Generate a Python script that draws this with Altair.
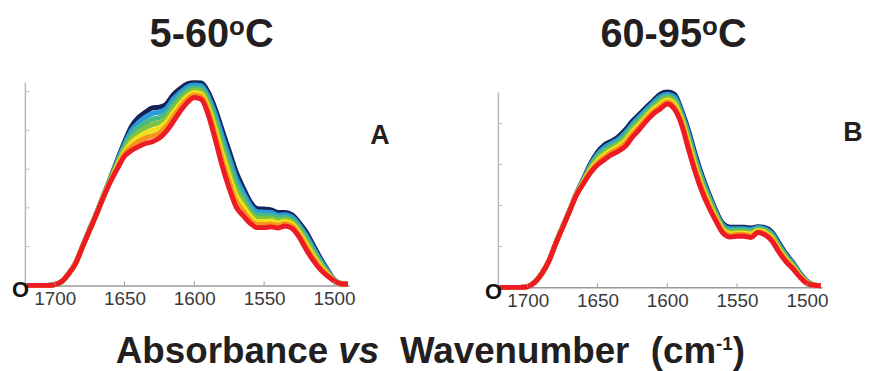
import altair as alt
import pandas as pd

FONT = "Liberation Sans"

wavenumber = [1720, 1715, 1710, 1705, 1700, 1695, 1690, 1685, 1680, 1675, 1670, 1665,
              1660, 1655, 1650, 1645, 1640, 1635, 1630, 1625, 1620, 1615, 1610, 1605,
              1600, 1595, 1590, 1585, 1580, 1575, 1570, 1565, 1560, 1555, 1550, 1545,
              1540, 1535, 1530, 1525, 1520, 1515, 1510, 1505, 1500, 1495, 1490]

series_names = ["t1", "t2", "t3", "t4", "t5", "t6", "t7"]
series_colors = ["#14235A", "#2A9AD8", "#46B88A", "#7DC242", "#EFE21C", "#F7941D", "#ED1C24"]

# Panel A (5-60 C)
a_t1 = [0, 0, 0, 0, .02, .1, .3, .58, 1.02, 1.45, 1.87, 2.33, 2.78, 3.25, 3.7, 4.1, 4.33, 4.47, 4.58, 4.6, 4.68, 4.92, 5.08, 5.2,
        5.23, 5.22, 4.98, 4.55, 4.0, 3.46, 2.92, 2.52, 2.16, 1.98, 1.97, 1.95, 1.88, 1.88, 1.82, 1.62, 1.38, 1.05, .72, .42, .15, .05, .03]
a_t2 = [0, 0, 0, 0, .02, .1, .3, .58, 1.02, 1.45, 1.86, 2.32, 2.76, 3.21, 3.64, 4.0, 4.2, 4.34, 4.44, 4.47, 4.56, 4.81, 4.98, 5.12,
        5.17, 5.15, 4.88, 4.42, 3.85, 3.3, 2.77, 2.4, 2.07, 1.9, 1.89, 1.88, 1.81, 1.82, 1.76, 1.56, 1.3, .98, .67, .39, .15, .05, .03]
a_t3 = [0, 0, 0, 0, .02, .1, .3, .58, 1.01, 1.44, 1.86, 2.31, 2.75, 3.17, 3.58, 3.89, 4.08, 4.2, 4.29, 4.33, 4.45, 4.69, 4.89, 5.04,
        5.1, 5.08, 4.79, 4.29, 3.69, 3.14, 2.62, 2.28, 1.97, 1.82, 1.81, 1.8, 1.75, 1.76, 1.7, 1.5, 1.23, .92, .62, .36, .14, .05, .03]
a_t4 = [0, 0, 0, 0, .02, .1, .3, .58, 1.01, 1.44, 1.86, 2.31, 2.73, 3.14, 3.52, 3.79, 3.96, 4.07, 4.15, 4.2, 4.33, 4.58, 4.79, 4.96,
        5.04, 5.01, 4.69, 4.16, 3.54, 2.98, 2.47, 2.16, 1.88, 1.74, 1.73, 1.73, 1.68, 1.71, 1.65, 1.44, 1.16, .85, .57, .34, .14, .05, .03]
a_t5 = [0, 0, 0, 0, .02, .1, .3, .57, 1.01, 1.43, 1.85, 2.3, 2.71, 3.1, 3.45, 3.69, 3.83, 3.93, 4.0, 4.07, 4.21, 4.46, 4.69, 4.88,
        4.98, 4.94, 4.59, 4.02, 3.39, 2.82, 2.32, 2.04, 1.79, 1.65, 1.65, 1.66, 1.61, 1.65, 1.59, 1.37, 1.08, .78, .52, .31, .13, .04, .03]
a_t6 = [0, 0, 0, 0, .02, .1, .3, .57, 1.0, 1.42, 1.84, 2.29, 2.7, 3.06, 3.39, 3.58, 3.71, 3.8, 3.86, 3.93, 4.1, 4.35, 4.6, 4.8,
        4.91, 4.87, 4.5, 3.89, 3.23, 2.66, 2.17, 1.92, 1.69, 1.57, 1.57, 1.58, 1.55, 1.59, 1.53, 1.31, 1.01, .72, .47, .28, .13, .04, .03]
a_t7 = [0, 0, 0, 0, .02, .1, .3, .57, 1.0, 1.42, 1.84, 2.28, 2.68, 3.02, 3.33, 3.48, 3.58, 3.66, 3.71, 3.8, 3.98, 4.23, 4.5, 4.72,
        4.85, 4.8, 4.4, 3.76, 3.08, 2.5, 2.02, 1.8, 1.6, 1.49, 1.49, 1.51, 1.48, 1.53, 1.47, 1.25, .93, .65, .42, .25, .12, .04, .03]

# Panel B (60-95 C)
b_t1 = [0, 0, 0, 0, .02, .12, .33, .63, 1.07, 1.48, 1.88, 2.3, 2.66, 3.02, 3.3, 3.48, 3.57, 3.68, 3.85, 4.06, 4.23, 4.4, 4.56, 4.72,
        4.77, 4.72, 4.35, 3.85, 3.25, 2.72, 2.27, 1.86, 1.55, 1.47, 1.47, 1.47, 1.45, 1.48, 1.46, 1.35, 1.08, .82, .6, .35, .15, .06, .04]
b_t2 = [0, 0, 0, 0, .02, .12, .33, .63, 1.07, 1.48, 1.88, 2.29, 2.64, 2.98, 3.25, 3.42, 3.52, 3.62, 3.78, 3.99, 4.17, 4.34, 4.51, 4.66,
        4.72, 4.66, 4.29, 3.78, 3.18, 2.66, 2.22, 1.82, 1.51, 1.43, 1.43, 1.43, 1.41, 1.46, 1.43, 1.31, 1.04, .79, .58, .33, .14, .06, .04]
b_t3 = [0, 0, 0, 0, .02, .12, .33, .63, 1.07, 1.47, 1.87, 2.29, 2.62, 2.95, 3.2, 3.36, 3.46, 3.56, 3.72, 3.93, 4.11, 4.29, 4.45, 4.6,
        4.67, 4.6, 4.23, 3.7, 3.11, 2.59, 2.16, 1.78, 1.47, 1.39, 1.4, 1.4, 1.37, 1.43, 1.4, 1.28, 1.01, .76, .55, .32, .13, .06, .04]
b_t4 = [0, 0, 0, 0, .02, .12, .33, .63, 1.07, 1.47, 1.87, 2.28, 2.6, 2.91, 3.15, 3.3, 3.41, 3.51, 3.65, 3.87, 4.05, 4.23, 4.4, 4.54,
        4.63, 4.54, 4.18, 3.63, 3.04, 2.53, 2.11, 1.74, 1.44, 1.35, 1.36, 1.36, 1.34, 1.41, 1.37, 1.24, .97, .73, .53, .3, .13, .06, .04]
b_t5 = [0, 0, 0, 0, .02, .12, .33, .63, 1.06, 1.47, 1.87, 2.27, 2.58, 2.87, 3.09, 3.24, 3.35, 3.45, 3.58, 3.8, 3.98, 4.17, 4.35, 4.48,
        4.58, 4.48, 4.12, 3.55, 2.96, 2.46, 2.05, 1.69, 1.4, 1.31, 1.32, 1.32, 1.3, 1.39, 1.34, 1.2, .93, .69, .5, .28, .12, .05, .04]
b_t6 = [0, 0, 0, 0, .02, .12, .33, .63, 1.06, 1.46, 1.86, 2.27, 2.56, 2.84, 3.04, 3.18, 3.3, 3.39, 3.52, 3.74, 3.92, 4.12, 4.29, 4.42,
        4.53, 4.42, 4.06, 3.48, 2.89, 2.4, 2.0, 1.65, 1.36, 1.27, 1.29, 1.29, 1.26, 1.36, 1.31, 1.17, .9, .66, .48, .27, .11, .05, .04]
b_t7 = [0, 0, 0, 0, .02, .12, .33, .63, 1.06, 1.46, 1.86, 2.26, 2.54, 2.8, 2.99, 3.12, 3.24, 3.33, 3.45, 3.67, 3.86, 4.06, 4.24, 4.36,
        4.48, 4.36, 4.0, 3.4, 2.82, 2.33, 1.94, 1.61, 1.32, 1.23, 1.25, 1.25, 1.22, 1.34, 1.28, 1.13, .86, .63, .45, .25, .1, .05, .04]

x_ticks = [1700, 1650, 1600, 1550, 1500]
y_ticks_a = [1, 2, 3, 4, 5]
y_ticks_b = [1, 2, 3, 4]
y_axis_top_a = 5.23
y_axis_top_b = 4.76

W = 326


def long_df(panel):
    rows = []
    for name, vals in zip(series_names, panel):
        for w, v in zip(wavenumber, vals):
            rows.append({"wn": w, "absorb": v, "series": name})
    return pd.DataFrame(rows)


one = pd.DataFrame({"k": [0]})


def txt(s, x, y, size, weight="bold", style="normal", align="left", color="#231F20"):
    return alt.Chart(one).mark_text(
        text=s, font=FONT, fontSize=size, fontWeight=weight, fontStyle=style,
        align=align, baseline="alphabetic", color=color
    ).encode(x=alt.value(x), y=alt.value(y))


X_AXIS = alt.Axis(
    values=x_ticks, format="d", ticks=False, grid=False, title=None,
    domainColor="#9a9a9a", domainWidth=1.5, labelColor="#3a3a3a",
    labelFont=FONT, labelFontSize=19, labelPadding=4)


def panel(data, ymax, axis_top, H, yticks, t_main, letter, letter_y, title_base):
    xs = alt.Scale(domain=[1489, 1721], reverse=True, nice=False, zero=False)
    ys = alt.Scale(domain=[0, ymax], nice=False, zero=True)
    lines = alt.Chart(long_df(data)).mark_line(
        strokeWidth=5, interpolate="monotone", strokeJoin="round"
    ).encode(
        x=alt.X("wn:Q", scale=xs, axis=X_AXIS),
        y=alt.Y("absorb:Q", scale=ys, axis=None),
        color=alt.Color("series:N", scale=alt.Scale(domain=series_names, range=series_colors), legend=None),
    )
    xt = alt.Chart(pd.DataFrame({"wn": x_ticks})).mark_rule(color="#9a9a9a", strokeWidth=1).encode(
        x=alt.X("wn:Q", scale=xs, axis=X_AXIS), y=alt.value(H), y2=alt.value(H - 4))
    yt = alt.Chart(pd.DataFrame({"absorb": yticks})).mark_rule(color="#b8b8b8", strokeWidth=1).encode(
        y=alt.Y("absorb:Q", scale=ys, axis=None), x=alt.value(0), x2=alt.value(4))
    yline = alt.Chart(pd.DataFrame({"absorb": [0], "top": [axis_top]})).mark_rule(
        color="#b8b8b8", strokeWidth=1.5).encode(
        y=alt.Y("absorb:Q", scale=ys, axis=None), y2="top:Q", x=alt.value(0))
    layers = [
        yline, lines, xt, yt,
        txt("O", -5, H + 12, 22, align="center", color="#111111"),
        txt(letter, 347, letter_y, 27),
        txt(t_main, 205, title_base, 40, align="right"),
        txt("o", 205, title_base - 12, 26),
        txt("C", 221, title_base, 40),
    ]
    return alt.layer(*layers).properties(width=W, height=H)


chart_a = panel([a_t1, a_t2, a_t3, a_t4, a_t5, a_t6, a_t7], 5.23, y_axis_top_a, 204, y_ticks_a,
                "5-60", "A", 62, -36)
chart_b = panel([b_t1, b_t2, b_t3, b_t4, b_t5, b_t6, b_t7], 5.0, y_axis_top_b, 206, y_ticks_b,
                "60-95", "B", 59, -36)

bottom = alt.layer(
    txt("Absorbance", 91, 53, 37),
    txt("vs", 315, 53, 37, style="italic"),
    txt("Wavenumber", 377, 53, 37),
    txt("(cm", 629.5, 53, 37),
    txt("-1", 695, 40, 19),
    txt(")", 712, 53, 37),
).properties(width=820, height=58)

chart = alt.vconcat(
    alt.hconcat(chart_a, chart_b, spacing=95),
    bottom,
    spacing=0,
).configure_view(strokeWidth=0).properties(
    padding={"left": 3.5, "top": 5, "right": 0, "bottom": 0}
)

chart.save("out.html", embed_options={"renderer": "svg", "actions": False})
